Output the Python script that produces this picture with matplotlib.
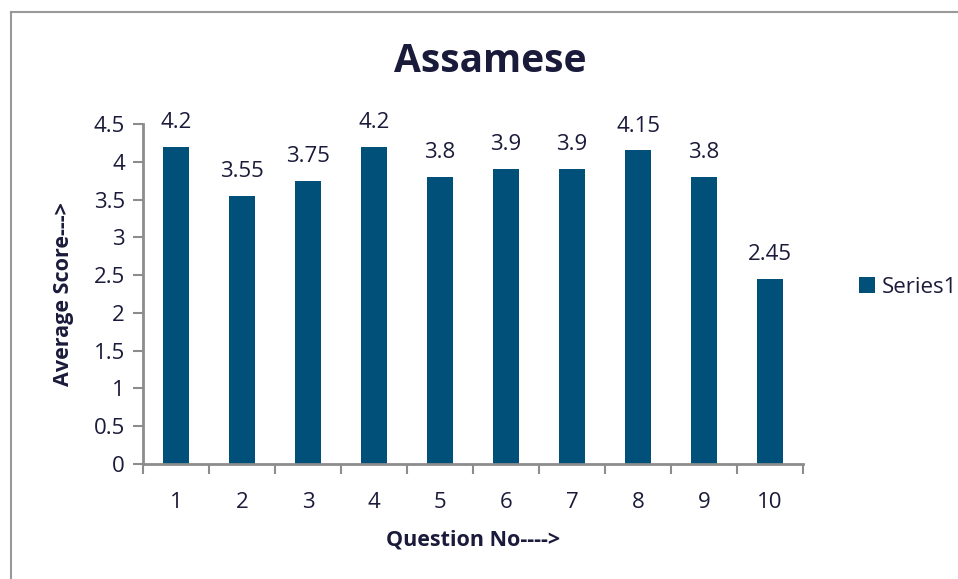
import matplotlib.pyplot as plt
import numpy as np
from matplotlib.lines import Line2D

questions = ["1", "2", "3", "4", "5", "6", "7", "8", "9", "10"]
scores = [4.2, 3.55, 3.75, 4.2, 3.8, 3.9, 3.9, 4.15, 3.8, 2.45]
score_labels = ["4.2", "3.55", "3.75", "4.2", "3.8", "3.9", "3.9", "4.15", "3.8", "2.45"]
y_ticks = [0, 0.5, 1, 1.5, 2, 2.5, 3, 3.5, 4, 4.5]

plt.rcParams["font.family"] = ["Open Sans", "DejaVu Sans"]
text_color = "#1a1a3a"
bar_color = "#00507A"
axis_color = "#8c8c8c"

fig = plt.figure(figsize=(9.58, 5.79), dpi=100)
ax = fig.add_axes([0.1493, 0.1986, 0.6889, 0.5872])

x = np.arange(len(questions))
bars = ax.bar(x, scores, width=0.4, color=bar_color, label="Series1")

for xi, val, lab in zip(x, scores, score_labels):
    ax.annotate(lab, (xi, val), xytext=(0, 10), textcoords="offset points",
                ha="center", va="bottom", fontsize=16, color=text_color)

ax.set_xlim(-0.5, len(questions) - 0.5)
ax.set_ylim(0, 4.5)
ax.set_yticks(y_ticks)
ax.set_yticklabels([f"{t:g}" for t in y_ticks])
ax.set_xticks(x)
ax.set_xticklabels(questions)
ax.set_xticks(np.arange(len(questions) + 1) - 0.5, minor=True)

ax.tick_params(axis="y", direction="out", length=7, width=1.5, color=axis_color,
               labelsize=16, labelcolor=text_color, pad=6)
ax.tick_params(axis="x", which="major", length=0, labelsize=16,
               labelcolor=text_color, pad=20)
ax.tick_params(axis="x", which="minor", direction="out", length=7, width=1.5,
               color=axis_color)

for side in ["top", "right"]:
    ax.spines[side].set_visible(False)
for side in ["left", "bottom"]:
    ax.spines[side].set_color(axis_color)
    ax.spines[side].set_linewidth(2)

ax.set_xlabel("Question No---->", fontsize=15.5, fontweight="bold", color=text_color, labelpad=12)
ax.set_ylabel("Average Score--->", fontsize=15.5, fontweight="bold", color=text_color, labelpad=14)
fig.text(0.512, 0.893, "Assamese", ha="center", va="center", fontsize=28,
         fontweight="bold", color=text_color)

ax.legend(loc="center left", bbox_to_anchor=(1.055, 0.52), frameon=False,
          fontsize=16, handlelength=0.7, handleheight=0.7, handletextpad=0.3,
          labelcolor=text_color)

# outer chart border (left and top visible)
fig.add_artist(Line2D([0.0115, 0.0115], [0, 0.979], transform=fig.transFigure,
                      color="#999999", linewidth=1.5))
fig.add_artist(Line2D([0.0115, 1.0], [0.979, 0.979], transform=fig.transFigure,
                      color="#999999", linewidth=1.5))

fig.savefig("out.png", dpi=100)
